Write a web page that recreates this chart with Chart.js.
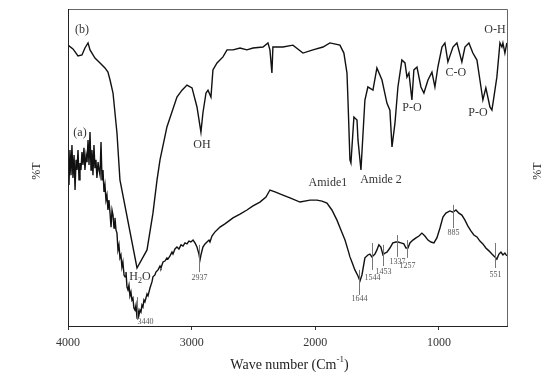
<!DOCTYPE html>
<html>
<head>
<meta charset="utf-8">
<script src="https://cdn.jsdelivr.net/npm/chart.js@4"></script>
<style>
  html, body { margin: 0; padding: 0; background: #fff; }
  #wrap { width: 545px; height: 374px; }
</style>
</head>
<body>
<div id="wrap"><canvas id="ftirChart" width="545" height="374"></canvas></div>
<script>
// wave numbers (cm-1) and %T (arbitrary offset)
const waveB = [4000, 3960, 3919, 3887, 3863, 3838, 3822, 3782, 3741, 3701, 3677, 3660, 3636, 3604, 3580, 3442, 3361, 3313, 3280, 3256, 3200, 3119, 3078, 3038, 2997, 2957, 2925, 2909, 2884, 2868, 2844, 2828, 2795, 2747, 2714, 2666, 2609, 2553, 2504, 2423, 2383, 2367, 2351, 2343, 2326, 2262, 2181, 2100, 2019, 1938, 1882, 1801, 1769, 1744, 1736, 1720, 1712, 1688, 1663, 1655, 1631, 1599, 1575, 1534, 1502, 1461, 1421, 1397, 1380, 1356, 1332, 1300, 1275, 1259, 1243, 1219, 1203, 1178, 1146, 1122, 1089, 1057, 1033, 1009, 976, 952, 928, 887, 855, 815, 790, 758, 726, 693, 669, 645, 621, 588, 572, 556, 532, 507, 491, 483, 467, 451];
const transB = [88.6, 87.4, 85.2, 85.5, 87.7, 89.3, 87.1, 84.5, 83.0, 81.4, 80.1, 77.6, 73.5, 60.9, 46.1, 18.3, 24.0, 35.6, 46.1, 52.4, 62.8, 72.2, 74.4, 76.0, 75.1, 69.1, 61.2, 67.2, 73.5, 74.4, 72.2, 80.8, 83.0, 84.9, 87.1, 87.1, 87.7, 87.1, 87.7, 88.0, 89.3, 87.1, 79.8, 88.0, 88.0, 88.0, 88.6, 86.1, 87.1, 88.0, 89.3, 88.6, 86.1, 79.8, 71.3, 52.4, 51.4, 65.9, 65.0, 58.7, 49.2, 71.3, 75.4, 74.4, 81.4, 77.6, 70.3, 68.1, 56.5, 64.0, 75.4, 83.9, 83.0, 78.5, 79.8, 71.3, 80.8, 81.7, 75.4, 73.5, 77.6, 80.1, 75.4, 81.7, 88.0, 89.3, 83.3, 88.0, 89.3, 83.3, 88.0, 89.3, 86.1, 83.9, 77.6, 71.3, 75.1, 69.1, 68.1, 72.2, 78.5, 89.3, 88.0, 89.3, 86.1, 89.3];

const waveA = [4000, 3992, 3984, 3976, 3968, 3960, 3951, 3943, 3935, 3927, 3919, 3911, 3903, 3895, 3887, 3879, 3871, 3863, 3854, 3846, 3838, 3830, 3822, 3814, 3806, 3798, 3790, 3782, 3774, 3766, 3757, 3749, 3741, 3733, 3725, 3717, 3709, 3701, 3693, 3685, 3677, 3669, 3660, 3652, 3644, 3636, 3628, 3620, 3612, 3604, 3596, 3588, 3580, 3572, 3564, 3556, 3547, 3539, 3531, 3523, 3515, 3507, 3499, 3491, 3483, 3475, 3467, 3458, 3450, 3442, 3434, 3426, 3418, 3410, 3402, 3394, 3386, 3378, 3361, 3353, 3337, 3321, 3313, 3297, 3289, 3272, 3256, 3248, 3232, 3216, 3200, 3192, 3175, 3159, 3151, 3135, 3119, 3103, 3086, 3070, 3054, 3038, 3022, 3006, 2989, 2973, 2957, 2941, 2933, 2925, 2909, 2892, 2876, 2860, 2852, 2836, 2811, 2795, 2771, 2731, 2690, 2666, 2609, 2553, 2504, 2448, 2399, 2367, 2326, 2262, 2205, 2124, 2043, 1987, 1946, 1906, 1866, 1825, 1793, 1760, 1736, 1720, 1704, 1680, 1655, 1639, 1623, 1599, 1575, 1559, 1542, 1518, 1502, 1486, 1470, 1453, 1437, 1421, 1397, 1373, 1348, 1332, 1308, 1284, 1267, 1251, 1235, 1211, 1186, 1162, 1138, 1114, 1089, 1065, 1041, 1017, 992, 968, 944, 912, 887, 863, 839, 815, 790, 766, 742, 718, 693, 669, 645, 621, 596, 572, 548, 532, 515, 499, 483, 467, 451];
const transA = [52.4, 44.5, 55.5, 47.6, 57.1, 46.7, 53.9, 42.9, 52.4, 49.2, 55.5, 46.1, 51.4, 49.2, 54.9, 50.8, 56.2, 49.2, 53.9, 51.7, 58.7, 50.8, 61.2, 49.2, 55.5, 47.6, 57.1, 49.8, 52.4, 46.7, 51.7, 49.2, 47.6, 58.0, 46.1, 49.2, 42.3, 44.5, 39.7, 41.3, 36.6, 39.7, 35.6, 31.2, 36.6, 35.0, 30.9, 34.1, 30.3, 29.3, 24.0, 25.6, 21.5, 22.4, 18.6, 20.2, 16.1, 15.5, 17.0, 12.3, 11.4, 12.9, 9.5, 10.7, 8.2, 8.8, 5.7, 5.0, 6.6, 2.5, 5.0, 3.5, 5.0, 4.4, 6.6, 6.0, 8.2, 7.6, 10.1, 9.5, 12.0, 13.9, 15.5, 16.1, 17.0, 17.7, 18.9, 18.3, 20.2, 20.5, 21.5, 21.1, 22.1, 23.3, 22.7, 24.3, 24.9, 24.3, 25.6, 25.2, 26.2, 25.9, 26.8, 26.5, 27.1, 26.2, 24.9, 22.7, 20.8, 22.4, 24.9, 25.9, 26.5, 27.1, 26.5, 28.4, 29.7, 30.3, 31.2, 32.2, 33.4, 34.1, 35.3, 36.6, 37.9, 39.1, 40.7, 42.9, 42.3, 41.3, 40.4, 39.1, 39.7, 39.7, 39.4, 38.8, 36.6, 33.4, 30.3, 27.1, 24.0, 21.8, 20.2, 17.7, 15.8, 14.2, 16.1, 21.5, 22.4, 22.7, 21.8, 22.7, 24.0, 25.6, 24.9, 22.4, 23.0, 23.3, 24.6, 26.2, 26.5, 26.5, 26.2, 25.9, 24.6, 24.6, 26.2, 27.1, 27.8, 28.4, 29.3, 28.4, 27.1, 26.5, 26.2, 27.8, 30.9, 34.4, 35.6, 36.3, 35.9, 36.6, 35.6, 35.0, 33.4, 31.5, 30.0, 28.7, 28.1, 26.8, 25.9, 24.6, 23.7, 22.7, 21.8, 21.1, 22.7, 23.3, 22.4, 23.0, 22.1];

// x axis tick labels
const xTicks = [4000, 3000, 2000, 1000];

// peak markers on spectrum (a): wave number, line top, line bottom, label height
const peakWave = [3440, 2937, 1644, 1544, 1453, 1337, 1257, 885, 551];
const peakTop = [9.1, 25.6, 17.7, 26.2, 25.6, 28.7, 27.1, 38.2, 26.2];
const peakBottom = [1.9, 17.0, 9.8, 17.7, 18.9, 21.8, 21.5, 30.9, 18.3];
const peakLabelY = [1.3, 15.1, 8.5, 15.1, 17.0, 20.2, 18.9, 29.3, 16.1];

// band names on spectrum (b) and curve tags
const bandText = ['(b)', '(a)', 'OH', 'Amide1', 'Amide 2', 'P-O', 'C-O', 'P-O', 'O-H'];
const bandWave = [3887, 3903, 2917, 1898, 1469, 1219, 863, 685, 548];
const bandY = [93.4, 60.9, 57.1, 45.1, 46.1, 68.8, 79.8, 67.2, 93.4];

const toPoints = (xs, ys) => xs.map((x, i) => ({ x: x, y: ys[i] }));

const SERIF = '"Liberation Serif", "Times New Roman", serif';

const decorPlugin = {
    id: 'decor',
    afterDatasetsDraw(chart) {
        const ctx = chart.ctx;
        const xs = chart.scales.x;
        const ys = chart.scales.y;
        const a = chart.chartArea;
        ctx.save();

        // frame
        ctx.strokeStyle = '#666';
        ctx.lineWidth = 1;
        ctx.beginPath();
        ctx.moveTo(a.left, a.top + 0.5);
        ctx.lineTo(a.right + 0.5, a.top + 0.5);
        ctx.lineTo(a.right + 0.5, a.bottom);
        ctx.stroke();
        ctx.strokeStyle = '#222';
        ctx.beginPath();
        ctx.moveTo(a.left + 0.5, a.top);
        ctx.lineTo(a.left + 0.5, a.bottom);
        ctx.stroke();

        // peak markers
        ctx.strokeStyle = '#777';
        ctx.fillStyle = '#555';
        ctx.font = '8px ' + SERIF;
        ctx.textAlign = 'center';
        ctx.textBaseline = 'middle';
        peakWave.forEach((w, i) => {
            const px = Math.round(xs.getPixelForValue(w)) + 0.5;
            ctx.beginPath();
            ctx.moveTo(px, ys.getPixelForValue(peakTop[i]));
            ctx.lineTo(px, ys.getPixelForValue(peakBottom[i]));
            ctx.stroke();
            let lx = px;
            if (w === 3440) { lx = px + 8; }
            ctx.fillText(String(w), lx, ys.getPixelForValue(peakLabelY[i]));
        });

        // band labels
        ctx.fillStyle = '#333';
        ctx.font = '12px ' + SERIF;
        bandText.forEach((t, i) => {
            ctx.fillText(t, xs.getPixelForValue(bandWave[i]), ys.getPixelForValue(bandY[i]));
        });

        // H2O with subscript
        const hx = xs.getPixelForValue(3418);
        const hy = ys.getPixelForValue(15.5);
        ctx.textAlign = 'left';
        const wH = ctx.measureText('H').width;
        ctx.font = '8px ' + SERIF;
        const w2 = ctx.measureText('2').width;
        ctx.font = '12px ' + SERIF;
        const wO = ctx.measureText('O').width;
        let sx = hx - (wH + w2 + wO) / 2;
        ctx.fillText('H', sx, hy);
        ctx.font = '8px ' + SERIF;
        ctx.fillText('2', sx + wH, hy + 4);
        ctx.font = '12px ' + SERIF;
        ctx.fillText('O', sx + wH + w2, hy);

        // axis title with superscript
        ctx.fillStyle = '#222';
        ctx.font = '14px ' + SERIF;
        const part1 = 'Wave number (Cm';
        const sup = '-1';
        const part3 = ')';
        const w1 = ctx.measureText(part1).width;
        const w3 = ctx.measureText(part3).width;
        ctx.font = '9px ' + SERIF;
        const ws = ctx.measureText(sup).width;
        const ty = 365;
        let tx = (a.left + a.right) / 2 + 2 - (w1 + ws + w3) / 2;
        ctx.font = '14px ' + SERIF;
        ctx.fillText(part1, tx, ty);
        ctx.font = '9px ' + SERIF;
        ctx.fillText(sup, tx + w1, ty - 5);
        ctx.font = '14px ' + SERIF;
        ctx.fillText(part3, tx + w1 + ws, ty);

        // %T on both sides
        ctx.font = '12px ' + SERIF;
        ctx.textAlign = 'center';
        [37, 538].forEach(x => {
            ctx.save();
            ctx.translate(x, 171);
            ctx.rotate(-Math.PI / 2);
            ctx.fillText('%T', 0, 0);
            ctx.restore();
        });
        ctx.restore();
    }
};

const ctx = document.getElementById('ftirChart').getContext('2d');
const ftirChart = new Chart(ctx, {
    type: 'scatter',
    data: {
        datasets: [{
            label: '(b)',
            data: toPoints(waveB, transB),
            showLine: true,
            borderColor: '#111',
            borderWidth: 1.4,
            pointRadius: 0,
            tension: 0
        }, {
            label: '(a)',
            data: toPoints(waveA, transA),
            showLine: true,
            borderColor: '#111',
            borderWidth: 1.4,
            pointRadius: 0,
            tension: 0
        }]
    },
    options: {
        responsive: false,
        animation: false,
        layout: { padding: { left: 68, right: 38, top: 9, bottom: 0 } },
        plugins: {
            legend: { display: false },
            tooltip: { enabled: false }
        },
        scales: {
            x: {
                type: 'linear',
                reverse: true,
                min: 450,
                max: 4000,
                afterBuildTicks: (axis) => {
                    axis.ticks = xTicks.map(v => ({ value: v }));
                },
                afterFit: (axis) => { axis.height = 48; },
                grid: { drawOnChartArea: false, drawTicks: true, tickLength: 4, color: '#333' },
                border: { display: true, color: '#222', width: 1 },
                ticks: {
                    color: '#333',
                    padding: 6,
                    maxRotation: 0,
                    font: { family: SERIF, size: 12 },
                    callback: (value) => String(value)
                }
            },
            y: {
                display: false,
                min: 0,
                max: 100
            }
        }
    },
    plugins: [decorPlugin]
});
</script>
</body>
</html>
